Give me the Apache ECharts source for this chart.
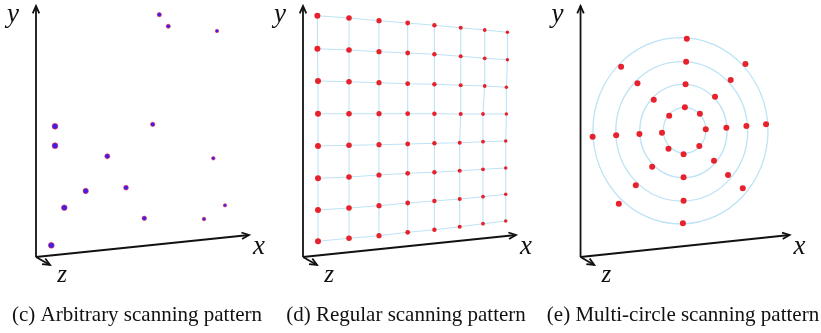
<!DOCTYPE html>
<html>
<head>
<meta charset="utf-8">
<script src="https://cdn.jsdelivr.net/npm/echarts@6/dist/echarts.min.js"></script>
<style>
html,body{margin:0;padding:0;background:#fff;}
#chart{width:821px;height:333px;}
</style>
</head>
<body>
<div id="chart"></div>
<script>
// captions under the three panels
var captions = ['(c) Arbitrary scanning pattern', '(d) Regular scanning pattern', '(e) Multi-circle scanning pattern'];

// axis names and arrow tips (origin at 0,0), same for every panel
var axisNames = ['x', 'y', 'z'];
var axisEnds = [[213, 22], [0, 251], [14, -8]];

// (c) arbitrary points
var arbitraryPts = [
	[123.3, 242.3], [132.3, 230.7], [181, 226], [19, 130.7], [19, 111.3],
	[116.7, 132.7], [71.3, 100.7], [177.3, 98.7], [49.7, 66], [90, 69.3],
	[28.3, 49.3], [189, 51.7], [108.3, 38.7], [168, 38], [15.3, 11.7]
];

// (d) regular grid, 8 rows x 8 columns (row 1 = top)
var gridX = [
	[14.4, 46, 76, 104.7, 131.4, 157.7, 181.7, 204.4],
	[14.4, 46, 76, 104.7, 131.4, 157.7, 181.7, 204.4],
	[15, 46, 76, 104.7, 131.4, 157.7, 181.7, 203.4],
	[15, 46, 76, 104.7, 131.4, 157.7, 180, 203.4],
	[15, 46, 76, 104.7, 131.4, 156.7, 180, 202.7],
	[15, 46, 76, 104.7, 131.4, 156.7, 180, 202.7],
	[15, 46, 76, 104.7, 131.4, 156.7, 180, 202.7],
	[15, 46, 76, 104.7, 131.4, 156.7, 180, 202.7]
];
var gridY = [
	[241.3, 239, 236.3, 234, 231.7, 229.3, 227, 224.7],
	[208.3, 207, 205.3, 204, 202.7, 200.7, 198.7, 197.3],
	[176, 175.3, 174.3, 173.3, 172.7, 171.7, 171, 169.7],
	[143.3, 143.3, 143.3, 143.3, 143.3, 143, 143, 143],
	[111, 111.7, 112.3, 113, 113.7, 114.3, 115.3, 116],
	[78.7, 80, 82, 83.7, 84.7, 86.3, 87.7, 89],
	[47, 49, 51.3, 54, 56, 58, 60.3, 62.7],
	[15.7, 18.7, 21.3, 24.7, 27.3, 30.3, 33.3, 36]
];

// (e) rings: centre x, centre y, radius x, radius y (outer first)
var ringCx = [101.8, 103.1, 104.8, 106];
var ringCy = [126.2, 125.7, 126, 126.7];
var ringRx = [89.2, 67.2, 44.5, 21.7];
var ringRy = [93.2, 69.7, 46.7, 23];
var ringPts = [
	[[108.3, 218.3], [168, 193], [189, 132.7], [165.3, 68.7], [104.3, 33.7], [39, 53.3], [12.3, 120.3], [41.3, 190.3]],
	[[107.6, 195.3], [153, 177], [169, 131], [150.3, 82], [105, 56.3], [56.3, 71.7], [36.3, 121.7], [58, 173.7]],
	[[107, 172.7], [137, 160.3], [148.6, 129.3], [136, 96.3], [105, 79.7], [73, 90.3], [60, 123], [74.6, 157.3]],
	[[106.3, 149.7], [121.6, 143.3], [127.6, 127.7], [121, 111], [105, 102.7], [89.6, 108.3], [83, 124.3], [90.3, 141.3]]
];

var panelLeft = [36, 303, 581];
var captionX = [137, 406, 683];
var red = '#e8222c';
var lightBlue = '#bde3f5';

var myChart = echarts.init(document.getElementById('chart'));

var grids = [], xAxes = [], yAxes = [], series = [];
for (var p = 0; p < 3; p++) {
	grids.push({left: panelLeft[p] - 25, top: 0, width: 270, height: 285});
	xAxes.push({type: 'value', gridIndex: p, min: -25, max: 245, show: false});
	yAxes.push({type: 'value', gridIndex: p, min: -28, max: 257, show: false});

	/* 坐标轴箭头 */
	series.push({
		type: 'custom',
		xAxisIndex: p,
		yAxisIndex: p,
		clip: false,
		silent: true,
		z: 5,
		data: axisEnds.map(function(e, i){ return [e[0], e[1], i]; }),
		renderItem: function(params, api){
			var i = api.value(2);
			var p0 = api.coord([0, 0]);
			var p1 = api.coord([api.value(0), api.value(1)]);
			var a = Math.atan2(p1[1] - p0[1], p1[0] - p0[0]);
			var len = 8, s = 0.42;
			var h1 = [p1[0] - len * Math.cos(a - s), p1[1] - len * Math.sin(a - s)];
			var h2 = [p1[0] - len * Math.cos(a + s), p1[1] - len * Math.sin(a + s)];
			var off = [[10, 12], [-23, 9], [12, 10]][i];
			var st = {stroke: '#111', lineWidth: 1.8, fill: null};
			return {
				type: 'group',
				children: [
					{type: 'line', shape: {x1: p0[0], y1: p0[1], x2: p1[0], y2: p1[1]}, style: st},
					{type: 'polyline', shape: {points: [h1, p1, h2]}, style: st},
					{type: 'text', x: p1[0] + off[0], y: p1[1] + off[1], style: {
						text: axisNames[i], fill: '#111',
						font: 'italic ' + (i == 2 ? 25 : 27) + 'px "Liberation Serif", serif',
						align: 'center', verticalAlign: 'middle'
					}}
				]
			};
		}
	});
}

/* (c) 任意扫描点 */
series.push({
	type: 'scatter',
	xAxisIndex: 0,
	yAxisIndex: 0,
	z: 3,
	data: arbitraryPts,
	symbolSize: function(v){ return 6 - v[0] / 70; },
	itemStyle: {color: '#3b1ff0', borderColor: 'rgba(240,40,60,0.8)', borderWidth: 0.8, opacity: 1}
});

/* (d) 规则网格 */
for (var r = 0; r < 8; r++) {
	var rowLine = [], colLine = [];
	for (var c = 0; c < 8; c++) {
		rowLine.push([gridX[r][c], gridY[r][c]]);
		colLine.push([gridX[c][r], gridY[c][r]]);
	}
	series.push({type: 'line', xAxisIndex: 1, yAxisIndex: 1, data: rowLine, symbol: 'none', z: 1,
		lineStyle: {color: lightBlue, width: 1.1}, silent: true});
	series.push({type: 'line', xAxisIndex: 1, yAxisIndex: 1, data: colLine, symbol: 'none', z: 1,
		lineStyle: {color: lightBlue, width: 1.1}, silent: true});
}
var regularPts = [];
for (var r2 = 0; r2 < 8; r2++) {
	for (var c2 = 0; c2 < 8; c2++) regularPts.push([gridX[r2][c2], gridY[r2][c2]]);
}
series.push({
	type: 'scatter',
	xAxisIndex: 1,
	yAxisIndex: 1,
	z: 3,
	data: regularPts,
	symbolSize: function(v){ return 6.2 - v[0] / 75; },
	itemStyle: {color: red, opacity: 1}
});

/* (e) 多圆 */
series.push({
	type: 'custom',
	xAxisIndex: 2,
	yAxisIndex: 2,
	clip: false,
	silent: true,
	z: 1,
	data: ringCx.map(function(cx, i){ return [cx, ringCy[i], ringRx[i], ringRy[i]]; }),
	renderItem: function(params, api){
		var c = api.coord([api.value(0), api.value(1)]);
		var sz = api.size([api.value(2), api.value(3)]);
		return {
			type: 'ellipse',
			shape: {cx: c[0], cy: c[1], rx: sz[0], ry: sz[1]},
			style: {fill: null, stroke: lightBlue, lineWidth: 1.3}
		};
	}
});
series.push({
	type: 'scatter',
	xAxisIndex: 2,
	yAxisIndex: 2,
	z: 3,
	data: [].concat.apply([], ringPts),
	symbolSize: 6,
	itemStyle: {color: red, opacity: 1}
});

var option = {
	animation: false,
	grid: grids,
	xAxis: xAxes,
	yAxis: yAxes,
	graphic: captions.map(function(t, i){
		return {
			type: 'text',
			x: captionX[i],
			y: 315,
			style: {text: t, fill: '#111', font: '21px "Liberation Serif", serif', align: 'center', verticalAlign: 'middle'}
		};
	}),
	series: series
};

myChart.setOption(option);
</script>
</body>
</html>
